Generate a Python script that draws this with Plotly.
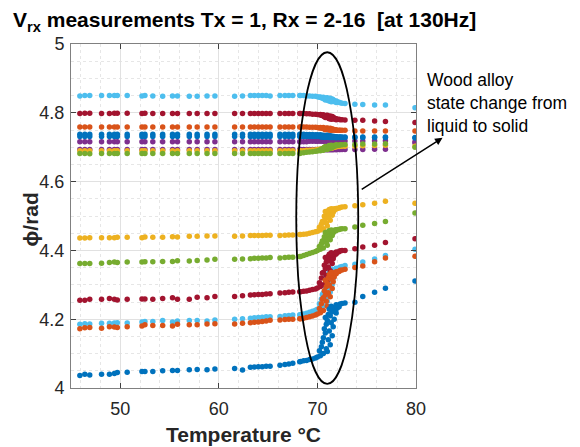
import plotly.graph_objects as go

# Temperature samples (°C) shared by all receivers
temperature = [
    45.9, 46.4, 46.9, 48.1, 48.9, 49.4, 49.7, 50.7, 52.2, 52.5, 53.3, 54.3, 55.3, 55.8, 57.0, 57.8,
    58.8, 59.6, 61.6, 62.4, 63.2, 63.6, 64.0, 64.4, 64.8, 65.2, 66.2, 66.7, 67.1, 67.5, 68.2,
    68.3, 68.6, 68.9, 69.2, 69.5, 69.8, 70.0, 70.3, 70.6, 70.2,
    71.0, 70.4, 70.9, 70.5, 71.3, 70.6, 71.1, 70.8, 71.5, 70.7,
    71.2, 70.9, 71.6, 71.0, 71.4, 70.8, 71.7, 71.1, 71.3, 71.5,
    71.9, 71.2, 71.8, 71.6, 72.0, 71.4, 72.2, 71.9, 72.3, 72.5,
    72.8, 73.8, 74.6, 75.8, 76.9, 79.9]

# Phase (rad) of each receiver
phi_upper_lightblue = [
    4.849, 4.850, 4.850, 4.850, 4.850, 4.850, 4.850, 4.850, 4.849, 4.850, 4.849, 4.848, 4.849, 4.849, 4.848, 4.848,
    4.849, 4.849, 4.848, 4.849, 4.850, 4.850, 4.850, 4.850, 4.850, 4.849, 4.850, 4.850, 4.850, 4.850, 4.850,
    4.850, 4.850, 4.849, 4.849, 4.848, 4.848, 4.847, 4.846, 4.845, 4.845,
    4.844, 4.844, 4.843, 4.843, 4.842, 4.842, 4.841, 4.841, 4.840, 4.840,
    4.839, 4.839, 4.838, 4.838, 4.837, 4.837, 4.836, 4.836, 4.835, 4.835,
    4.834, 4.834, 4.833, 4.833, 4.832, 4.832, 4.831, 4.830, 4.829, 4.828,
    4.827, 4.825, 4.824, 4.823, 4.823, 4.815]
phi_upper_darkred = [
    4.798, 4.799, 4.799, 4.798, 4.798, 4.799, 4.799, 4.799, 4.798, 4.799, 4.798, 4.798, 4.798, 4.798, 4.798, 4.798,
    4.798, 4.798, 4.798, 4.798, 4.798, 4.798, 4.798, 4.798, 4.798, 4.798, 4.798, 4.798, 4.798, 4.798, 4.798,
    4.798, 4.798, 4.797, 4.797, 4.796, 4.796, 4.795, 4.795, 4.794, 4.794,
    4.793, 4.793, 4.792, 4.792, 4.791, 4.791, 4.790, 4.790, 4.789, 4.789,
    4.788, 4.788, 4.787, 4.787, 4.786, 4.786, 4.785, 4.785, 4.784, 4.784,
    4.783, 4.783, 4.782, 4.782, 4.781, 4.781, 4.781, 4.780, 4.780, 4.780,
    4.779, 4.778, 4.778, 4.776, 4.775, 4.772]
phi_upper_orange = [
    4.759, 4.759, 4.759, 4.759, 4.759, 4.759, 4.759, 4.759, 4.759, 4.759, 4.759, 4.759, 4.759, 4.759, 4.759, 4.759,
    4.759, 4.759, 4.759, 4.759, 4.759, 4.759, 4.759, 4.759, 4.759, 4.759, 4.759, 4.759, 4.759, 4.759, 4.759,
    4.759, 4.759, 4.759, 4.758, 4.758, 4.758, 4.757, 4.757, 4.757, 4.756,
    4.756, 4.756, 4.755, 4.755, 4.755, 4.754, 4.754, 4.754, 4.753, 4.753,
    4.753, 4.752, 4.752, 4.752, 4.752, 4.751, 4.751, 4.751, 4.751, 4.750,
    4.750, 4.750, 4.750, 4.750, 4.749, 4.749, 4.749, 4.749, 4.749, 4.749,
    4.749, 4.747, 4.747, 4.747, 4.747, 4.747]
phi_upper_blue_a = [
    4.738, 4.738, 4.738, 4.738, 4.738, 4.738, 4.738, 4.738, 4.738, 4.738, 4.738, 4.738, 4.738, 4.738, 4.738, 4.738,
    4.738, 4.738, 4.738, 4.738, 4.738, 4.738, 4.738, 4.738, 4.738, 4.738, 4.738, 4.738, 4.738, 4.738, 4.738,
    4.738, 4.738, 4.737, 4.737, 4.737, 4.736, 4.736, 4.736, 4.735, 4.735,
    4.735, 4.734, 4.734, 4.734, 4.733, 4.733, 4.733, 4.733, 4.732, 4.732,
    4.732, 4.732, 4.731, 4.731, 4.731, 4.731, 4.731, 4.730, 4.730, 4.730,
    4.730, 4.730, 4.730, 4.730, 4.730, 4.730, 4.730, 4.730, 4.730, 4.730,
    4.730, 4.730, 4.730, 4.730, 4.730, 4.728]
phi_upper_blue_b = [
    4.731, 4.731, 4.731, 4.731, 4.731, 4.731, 4.731, 4.731, 4.731, 4.731, 4.731, 4.731, 4.731, 4.731, 4.731, 4.731,
    4.731, 4.731, 4.731, 4.731, 4.731, 4.731, 4.731, 4.731, 4.731, 4.731, 4.731, 4.731, 4.731, 4.731, 4.731,
    4.731, 4.731, 4.731, 4.731, 4.731, 4.731, 4.731, 4.731, 4.731, 4.731,
    4.730, 4.730, 4.730, 4.730, 4.730, 4.730, 4.730, 4.730, 4.730, 4.730,
    4.729, 4.729, 4.729, 4.729, 4.729, 4.729, 4.729, 4.729, 4.729, 4.729,
    4.728, 4.728, 4.728, 4.728, 4.728, 4.728, 4.728, 4.728, 4.728, 4.728,
    4.728, 4.728, 4.728, 4.728, 4.728, 4.727]
phi_upper_purple_a = [
    4.716, 4.716, 4.716, 4.716, 4.716, 4.716, 4.716, 4.716, 4.716, 4.716, 4.716, 4.716, 4.716, 4.716, 4.716, 4.716,
    4.716, 4.716, 4.716, 4.716, 4.716, 4.716, 4.716, 4.716, 4.716, 4.716, 4.716, 4.716, 4.716, 4.716, 4.716,
    4.716, 4.716, 4.716, 4.717, 4.717, 4.717, 4.717, 4.718, 4.718, 4.718,
    4.718, 4.718, 4.718, 4.718, 4.718, 4.718, 4.719, 4.719, 4.719, 4.719,
    4.719, 4.719, 4.719, 4.719, 4.719, 4.719, 4.719, 4.719, 4.719, 4.719,
    4.719, 4.719, 4.719, 4.719, 4.719, 4.719, 4.719, 4.719, 4.719, 4.719,
    4.718, 4.718, 4.718, 4.719, 4.719, 4.716]
phi_upper_purple_b = [
    4.693, 4.693, 4.693, 4.693, 4.693, 4.693, 4.693, 4.693, 4.693, 4.693, 4.693, 4.693, 4.693, 4.693, 4.693, 4.693,
    4.693, 4.693, 4.693, 4.693, 4.693, 4.693, 4.693, 4.693, 4.693, 4.693, 4.693, 4.693, 4.693, 4.693, 4.693,
    4.693, 4.693, 4.693, 4.693, 4.693, 4.693, 4.693, 4.693, 4.693, 4.693,
    4.693, 4.693, 4.693, 4.693, 4.693, 4.693, 4.693, 4.693, 4.693, 4.693,
    4.693, 4.693, 4.693, 4.693, 4.693, 4.693, 4.693, 4.693, 4.693, 4.693,
    4.693, 4.693, 4.693, 4.693, 4.693, 4.693, 4.693, 4.693, 4.693, 4.693,
    4.693, 4.693, 4.693, 4.694, 4.694, 4.712]
phi_upper_yellow = [
    4.690, 4.690, 4.690, 4.690, 4.690, 4.690, 4.690, 4.690, 4.690, 4.690, 4.690, 4.690, 4.690, 4.690, 4.690, 4.690,
    4.690, 4.690, 4.690, 4.690, 4.690, 4.690, 4.690, 4.690, 4.690, 4.690, 4.690, 4.690, 4.690, 4.690, 4.690,
    4.690, 4.690, 4.691, 4.691, 4.692, 4.692, 4.693, 4.693, 4.694, 4.694,
    4.695, 4.695, 4.696, 4.696, 4.697, 4.697, 4.697, 4.698, 4.698, 4.698,
    4.699, 4.699, 4.699, 4.700, 4.700, 4.700, 4.700, 4.701, 4.701, 4.701,
    4.701, 4.701, 4.702, 4.702, 4.702, 4.702, 4.702, 4.702, 4.703, 4.703,
    4.703, 4.703, 4.704, 4.705, 4.706, 4.703]
phi_upper_green = [
    4.682, 4.682, 4.681, 4.682, 4.682, 4.682, 4.682, 4.682, 4.682, 4.682, 4.682, 4.682, 4.682, 4.682, 4.682, 4.682,
    4.682, 4.682, 4.682, 4.682, 4.682, 4.682, 4.682, 4.682, 4.682, 4.682, 4.682, 4.682, 4.682, 4.682, 4.682,
    4.683, 4.684, 4.685, 4.686, 4.687, 4.688, 4.689, 4.690, 4.691, 4.692,
    4.693, 4.694, 4.695, 4.695, 4.696, 4.697, 4.697, 4.698, 4.699, 4.699,
    4.700, 4.700, 4.701, 4.701, 4.702, 4.702, 4.703, 4.703, 4.704, 4.704,
    4.704, 4.705, 4.705, 4.705, 4.706, 4.706, 4.706, 4.707, 4.707, 4.707,
    4.708, 4.708, 4.709, 4.709, 4.710, 4.700]
phi_lower_yellow = [
    4.436, 4.436, 4.437, 4.437, 4.437, 4.437, 4.438, 4.438, 4.437, 4.439, 4.438, 4.438, 4.440, 4.439, 4.441, 4.441,
    4.442, 4.442, 4.441, 4.442, 4.443, 4.443, 4.443, 4.443, 4.444, 4.444, 4.443, 4.444, 4.445, 4.445, 4.446,
    4.446, 4.447, 4.448, 4.450, 4.452, 4.454, 4.456, 4.459, 4.463, 4.467,
    4.471, 4.476, 4.480, 4.484, 4.488, 4.485, 4.496, 4.492, 4.502, 4.499,
    4.507, 4.505, 4.511, 4.509, 4.514, 4.513, 4.516, 4.515, 4.518, 4.517,
    4.520, 4.519, 4.521, 4.520, 4.522, 4.521, 4.523, 4.522, 4.525, 4.526,
    4.527, 4.530, 4.533, 4.537, 4.543, 4.537]
phi_lower_green = [
    4.362, 4.362, 4.362, 4.363, 4.365, 4.366, 4.365, 4.366, 4.366, 4.367, 4.367, 4.368, 4.368, 4.370, 4.369, 4.371,
    4.372, 4.374, 4.374, 4.375, 4.376, 4.377, 4.377, 4.378, 4.378, 4.379, 4.378, 4.379, 4.380, 4.380, 4.382,
    4.382, 4.385, 4.388, 4.391, 4.394, 4.397, 4.400, 4.403, 4.407, 4.411,
    4.415, 4.419, 4.423, 4.427, 4.431, 4.428, 4.437, 4.434, 4.443, 4.440,
    4.447, 4.445, 4.451, 4.449, 4.453, 4.452, 4.455, 4.454, 4.457, 4.456,
    4.458, 4.457, 4.459, 4.458, 4.460, 4.459, 4.461, 4.460, 4.462, 4.463,
    4.463, 4.468, 4.473, 4.478, 4.484, 4.509]
phi_lower_darkred = [
    4.255, 4.255, 4.258, 4.258, 4.260, 4.258, 4.256, 4.258, 4.259, 4.259, 4.258, 4.260, 4.262, 4.258, 4.258, 4.264,
    4.262, 4.266, 4.266, 4.268, 4.270, 4.271, 4.272, 4.272, 4.273, 4.274, 4.276, 4.277, 4.278, 4.279, 4.280,
    4.280, 4.281, 4.282, 4.284, 4.286, 4.288, 4.291, 4.295, 4.300, 4.306,
    4.313, 4.320, 4.327, 4.334, 4.341, 4.336, 4.352, 4.347, 4.362, 4.357,
    4.370, 4.366, 4.376, 4.373, 4.381, 4.379, 4.385, 4.383, 4.388, 4.387,
    4.390, 4.389, 4.392, 4.391, 4.394, 4.393, 4.396, 4.395, 4.399, 4.400,
    4.400, 4.405, 4.410, 4.415, 4.423, 4.434]
phi_lower_lightblue = [
    4.185, 4.187, 4.186, 4.188, 4.188, 4.189, 4.190, 4.189, 4.192, 4.193, 4.193, 4.196, 4.192, 4.195, 4.196, 4.196,
    4.195, 4.198, 4.200, 4.201, 4.203, 4.204, 4.205, 4.206, 4.207, 4.207, 4.208, 4.210, 4.211, 4.212, 4.213,
    4.213, 4.215, 4.217, 4.220, 4.223, 4.226, 4.229, 4.233, 4.239, 4.245,
    4.252, 4.259, 4.266, 4.272, 4.279, 4.276, 4.290, 4.284, 4.301, 4.296,
    4.311, 4.306, 4.319, 4.315, 4.327, 4.323, 4.333, 4.330, 4.338, 4.336,
    4.342, 4.340, 4.345, 4.344, 4.347, 4.346, 4.349, 4.348, 4.352, 4.353,
    4.356, 4.360, 4.366, 4.375, 4.385, 4.403]
phi_lower_orange = [
    4.172, 4.175, 4.176, 4.174, 4.178, 4.177, 4.176, 4.178, 4.180, 4.184, 4.182, 4.182, 4.180, 4.185, 4.184, 4.184,
    4.186, 4.187, 4.186, 4.188, 4.190, 4.191, 4.192, 4.193, 4.195, 4.197, 4.198, 4.199, 4.200, 4.200, 4.201,
    4.201, 4.203, 4.205, 4.207, 4.209, 4.212, 4.215, 4.219, 4.225, 4.231,
    4.238, 4.245, 4.252, 4.258, 4.265, 4.262, 4.277, 4.270, 4.289, 4.283,
    4.299, 4.294, 4.309, 4.304, 4.317, 4.313, 4.323, 4.320, 4.328, 4.326,
    4.332, 4.330, 4.335, 4.334, 4.337, 4.336, 4.339, 4.338, 4.342, 4.343,
    4.345, 4.350, 4.355, 4.367, 4.378, 4.383]
phi_lower_blue = [
    4.036, 4.040, 4.038, 4.040, 4.040, 4.042, 4.045, 4.046, 4.048, 4.048, 4.048, 4.050, 4.051, 4.051, 4.053, 4.054,
    4.053, 4.055, 4.057, 4.052, 4.060, 4.061, 4.062, 4.062, 4.063, 4.063, 4.066, 4.068, 4.070, 4.072, 4.076,
    4.077, 4.079, 4.080, 4.083, 4.084, 4.087, 4.090, 4.094, 4.100, 4.108,
    4.106, 4.120, 4.114, 4.133, 4.126, 4.146, 4.140, 4.160, 4.152, 4.172,
    4.166, 4.185, 4.178, 4.196, 4.190, 4.205, 4.200, 4.214, 4.210, 4.222,
    4.218, 4.229, 4.226, 4.234, 4.232, 4.238, 4.236, 4.242, 4.244, 4.246,
    4.247, 4.249, 4.266, 4.278, 4.290, 4.311]

x_ticks = [50, 60, 70, 80]
y_ticks = [4, 4.2, 4.4, 4.6, 4.8, 5]
y_tick_text = ["4", "4.2", "4.4", "4.6", "4.8", "5"]

BLUE, ORANGE, YELLOW, PURPLE = "#0072BD", "#D95319", "#EDB120", "#7E2F8E"
GREEN, LIGHTBLUE, DARKRED = "#77AC30", "#4DBEEE", "#A2142F"

series = [
    (phi_lower_lightblue, LIGHTBLUE),
    (phi_upper_lightblue, LIGHTBLUE),
    (phi_upper_purple_a, PURPLE),
    (phi_upper_purple_b, PURPLE),
    (phi_upper_yellow, YELLOW),
    (phi_upper_green, GREEN),
    (phi_upper_darkred, DARKRED),
    (phi_upper_orange, ORANGE),
    (phi_upper_blue_a, BLUE),
    (phi_upper_blue_b, BLUE),
    (phi_lower_darkred, DARKRED),
    (phi_lower_orange, ORANGE),
    (phi_lower_yellow, YELLOW),
    (phi_lower_green, GREEN),
    (phi_lower_blue, BLUE),
]

fig = go.Figure()
for vals, col in series:
    fig.add_trace(go.Scatter(x=temperature, y=vals, mode="markers",
                             marker=dict(size=5.5, color=col, line=dict(width=0)),
                             cliponaxis=True, hoverinfo="skip"))

# The page body has an 8 px margin, so the figure is laid out 8 px up/left
W, H = 572, 439
PL, PR, PT, PB = 63, 408, 36, 380   # plot area in figure pixels

FONT = "Liberation Sans, Arial, Helvetica, sans-serif"
axis_common = dict(
    ticks="inside", ticklen=5, tickcolor="#404040", tickwidth=1,
    showline=True, linecolor="#808080", linewidth=1, mirror="ticks",
    showgrid=True, gridcolor="#e1e1e1", gridwidth=1, zeroline=False,
    tickfont=dict(size=18, color="#262626", family=FONT),
)
fig.update_xaxes(range=[45, 80], tickmode="array", tickvals=x_ticks,
                 ticktext=[str(v) for v in x_ticks], ticklabelstandoff=4,
                 minor=dict(dtick=2, tick0=0, showgrid=True, gridcolor="#e6e6e6",
                            griddash="dot", gridwidth=1, ticks=""),
                 title=dict(text="<b>Temperature °C</b>", font=dict(size=21, color="#262626", family=FONT),
                            standoff=9),
                 **axis_common)
fig.update_yaxes(range=[4, 5], tickmode="array", tickvals=y_ticks, ticktext=y_tick_text,
                 ticklabelstandoff=2,
                 minor=dict(dtick=0.05, tick0=0, showgrid=True, gridcolor="#e6e6e6",
                            griddash="dot", gridwidth=1, ticks=""),
                 **axis_common)

pw, ph = PR - PL, PB - PT

# y-axis title placed as an annotation for precise position
fig.add_annotation(xref="paper", yref="paper", x=(22 - PL) / pw, y=0.49,
                   xanchor="center", yanchor="middle", textangle=-90, showarrow=False,
                   text="<b>ϕ/rad</b>", font=dict(size=21, color="#262626", family=FONT))

fig.add_shape(type="circle", xref="x", yref="y", x0=67.85, x1=74.14, y0=4.012, y1=4.976,
              line=dict(color="black", width=1.8))

# text with arrow (arrowhead at the text end, line starting near the ellipse)
fig.add_annotation(xref="paper", yref="paper", x=(353.7 - PL) / pw, y=1 - (181.3 - PT) / ph,
                   ax=135, ay=-86, axref="pixel", ayref="pixel",
                   text="Wood alloy<br>state change from<br>liquid to solid", align="left",
                   font=dict(size=17.5, color="black", family=FONT),
                   showarrow=True, arrowside="start", startarrowhead=2, startarrowsize=1,
                   arrowwidth=1.5, arrowcolor="black")

fig.update_layout(
    width=W, height=H,
    margin=dict(l=PL, r=W - PR, t=PT, b=H - PB, autoexpand=False),
    plot_bgcolor="white", paper_bgcolor="white", showlegend=False,
    font=dict(family=FONT, color="#262626"),
    title=dict(text="<b>V<sub>rx</sub> measurements Tx = 1, Rx = 2-16&nbsp; [at 130Hz]</b>",
               x=5 / W, xanchor="left", xref="container",
               y=1 - 12 / H, yanchor="middle", yref="container",
               font=dict(size=21, color="black", family=FONT)),
)

fig.write_html("out.html")
